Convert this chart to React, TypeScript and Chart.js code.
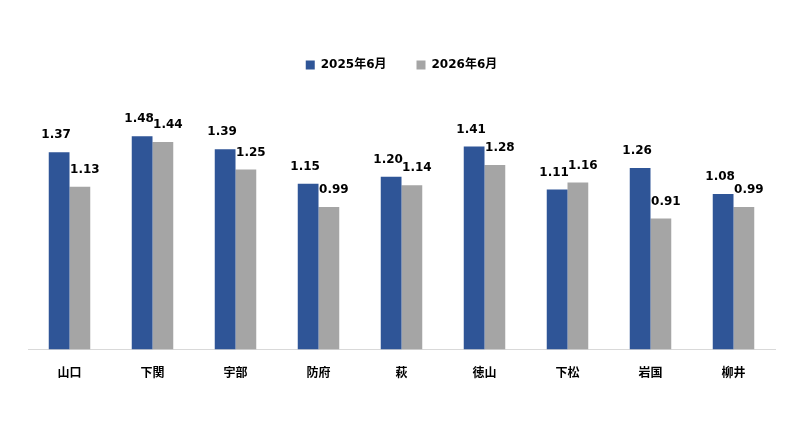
import React, { useEffect, useRef } from "react";
import { Chart, registerables } from "chart.js";

Chart.register(...registerables);

const cities = ["山口", "下関", "宇部", "防府", "萩", "徳山", "下松", "岩国", "柳井"];
const june2025 = [1.37, 1.48, 1.39, 1.15, 1.2, 1.41, 1.11, 1.26, 1.08];
const june2026 = [1.13, 1.44, 1.25, 0.99, 1.14, 1.28, 1.16, 0.91, 0.99];
const seriesNames = ["2025年6月", "2026年6月"];

const FONT = "'DejaVu Sans', 'Noto Sans CJK JP', sans-serif";

// draws the value above each bar (labels pushed slightly apart)
const valueLabels = {
  id: "valueLabels",
  afterDatasetsDraw(chart: any) {
    const ctx = chart.ctx;
    const shift = [-3, 5];
    ctx.save();
    ctx.font = `bold 12px ${FONT}`;
    ctx.fillStyle = "#000";
    ctx.textAlign = "center";
    ctx.textBaseline = "bottom";
    chart.data.datasets.forEach((ds: any, i: number) => {
      chart.getDatasetMeta(i).data.forEach((bar: any, j: number) => {
        ctx.fillText(ds.data[j].toFixed(2), bar.x + shift[i], bar.y - 11);
      });
    });
    ctx.restore();
  },
};

// extra space under the legend
const legendGap = {
  id: "legendGap",
  beforeInit(chart: any) {
    const fit = chart.legend.fit;
    chart.legend.fit = function () {
      fit.bind(chart.legend)();
      this.height += 38;
    };
  },
};

const App: React.FC = () => {
  const canvasRef = useRef<HTMLCanvasElement>(null);

  useEffect(() => {
    if (!canvasRef.current) return;
    const chart = new Chart(canvasRef.current, {
      type: "bar",
      data: {
        labels: cities,
        datasets: [
          { label: seriesNames[0], data: june2025, backgroundColor: "#2F5597" },
          { label: seriesNames[1], data: june2026, backgroundColor: "#A5A5A5" },
        ],
      },
      plugins: [valueLabels, legendGap],
      options: {
        responsive: false,
        animation: false,
        categoryPercentage: 0.5,
        barPercentage: 1,
        layout: { padding: { left: 28, right: 25, top: 29, bottom: 46 } },
        plugins: {
          legend: {
            position: "top",
            labels: {
              boxWidth: 9,
              boxHeight: 9,
              padding: 30,
              color: "#000",
              font: { family: FONT, size: 12, weight: "bold" },
            },
          },
          tooltip: { enabled: false },
        },
        scales: {
          x: {
            grid: { display: false },
            border: { color: "#D9D9D9" },
            ticks: {
              padding: 9,
              color: "#000",
              font: { family: FONT, size: 12, weight: "bold" },
            },
          },
          y: {
            display: false,
            min: 0,
            max: 1.6,
          },
        },
      },
    });
    return () => chart.destroy();
  }, []);

  return (
    <div style={{ position: "absolute", left: 0, top: 0, width: 800, height: 436, background: "#fff" }}>
      <canvas ref={canvasRef} width={800} height={436} />
    </div>
  );
};

export default App;
